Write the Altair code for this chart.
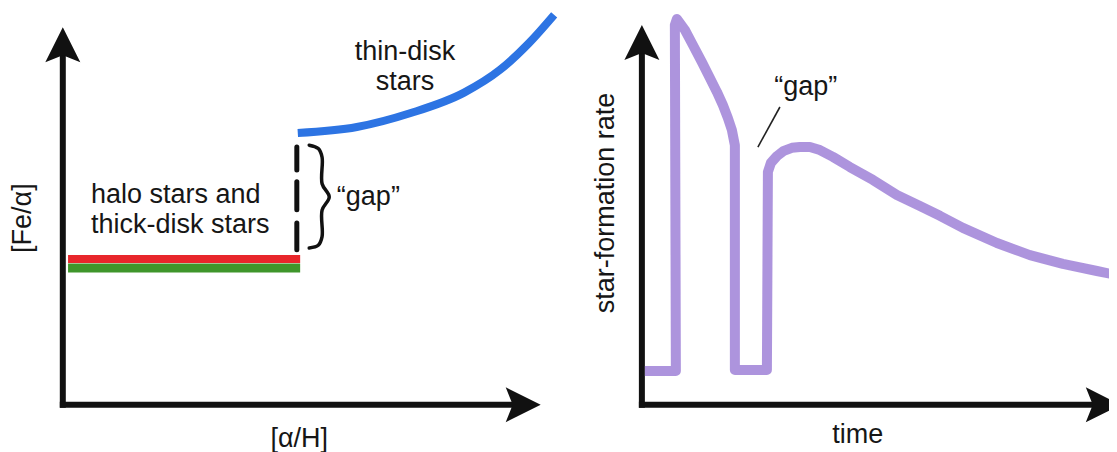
import altair as alt
import pandas as pd

# ---------------- left panel data (abstract units) ----------------
red_x = [0.11, 4.98]
red_y = [3.86, 3.86]
green_x = [0.11, 4.98]
green_y = [3.62, 3.62]
blue_x = [4.93, 6.17, 7.30, 8.42, 9.17, 9.78, 10.31]
blue_y = [7.19, 7.35, 7.72, 8.26, 8.86, 9.57, 10.32]
dash_x = [4.91, 4.91, 4.91]
dash_top = [6.82, 5.90, 4.81]
dash_bottom = [6.21, 5.16, 4.10]
brace_x = [5.17, 5.36, 5.44, 5.44, 5.59, 5.44, 5.44, 5.36, 5.17]
brace_y = [6.87, 6.78, 6.55, 5.85, 5.50, 5.15, 4.45, 4.22, 4.15]
left_axis_x = [0, 0]
left_axis_x2 = [0, 9.5]
left_axis_y = [0, 0]
left_axis_y2 = [9.3, 0]
left_arrow_x = [0, 9.66]
left_arrow_y = [9.53, 0]
left_arrow_angle = [0, 90]
left_labels = ["thin-disk", "stars", "halo stars and", "thick-disk stars", "\u201cgap\u201d"]
left_label_x = [7.18, 7.18, 0.59, 0.59, 5.75]
left_label_y = [9.12, 8.33, 5.34, 4.55, 5.29]
left_label_align = ["center", "center", "left", "left", "left"]
left_xtitle = "[\u03b1/H]"
left_xtitle_pos = [4.96, -0.90]
left_ytitle = "[Fe/\u03b1]"
left_ytitle_pos = [-0.835, 4.94]

# ---------------- right panel data (abstract units) ----------------
sfr_t = [0.063, 0.713, 0.692, 0.734, 0.902, 1.070, 1.259, 1.427, 1.574, 1.700,
         1.804, 1.888, 1.951, 1.951, 2.623, 2.644, 2.707, 2.833, 2.979, 3.147,
         3.315, 3.525, 3.735, 4.008, 4.364, 4.847, 5.350, 5.833, 6.253, 6.735,
         7.449, 8.141, 8.833, 9.547, 9.966]
sfr_v = [0.894, 0.894, 10.05, 10.21, 9.92, 9.52, 9.07, 8.65, 8.28, 7.93,
         7.59, 7.27, 6.87, 0.921, 0.921, 6.16, 6.40, 6.58, 6.72, 6.80,
         6.82, 6.82, 6.74, 6.56, 6.29, 5.95, 5.55, 5.26, 5.00, 4.68,
         4.28, 3.96, 3.73, 3.54, 3.43]
right_axis_x = [0, 0]
right_axis_x2 = [0, 9.5]
right_axis_y = [0, 0]
right_axis_y2 = [9.35, 0]
right_arrow_x = [0, 9.68]
right_arrow_y = [9.59, 0]
right_arrow_angle = [0, 90]
gap_label = "\u201cgap\u201d"
gap_label_pos = [3.44, 8.20]
pointer_x = [2.896, 2.434]
pointer_y = [7.88, 6.82]
right_xtitle = "time"
right_xtitle_pos = [4.53, -0.80]
right_ytitle = "star-formation rate"
right_ytitle_pos = [-0.755, 5.34]

FONT = "Liberation Sans"
FS = 27
TXT = "#161616"
ARROW = "M0,-1 L1,1 L0,0.6 L-1,1 Z"

ys = alt.Scale(domain=[-1.25, 10.5], nice=False, zero=False)
xs_left = alt.Scale(domain=[-1.15, 10.6], nice=False, zero=False)
xs_right = alt.Scale(domain=[-1.55, 9.80], nice=False, zero=False)


def X(f, s):
    return alt.X(f, type="quantitative", scale=s, axis=None)


def Y(f):
    return alt.Y(f, type="quantitative", scale=ys, axis=None)


def axes_layers(xs, ax, ax2, ay, ay2, arx, ary, arang):
    df = pd.DataFrame({"x": ax, "x2": ax2, "y": ay, "y2": ay2})
    rules = alt.Chart(df).mark_rule(color="#111111", strokeWidth=6, strokeCap="square",
                                    clip=True).encode(
        x=X("x", xs), x2="x2", y=Y("y"), y2="y2")
    da = pd.DataFrame({"x": arx, "y": ary, "a": arang})
    heads = alt.Chart(da).mark_point(shape=ARROW, filled=True, size=1225, color="#111111",
                                     opacity=1, strokeWidth=0, clip=True).encode(
        x=X("x", xs), y=Y("y"), angle=alt.Angle("a:Q", scale=None))
    return [rules, heads]


# ---------------- left panel ----------------
def seg(xv, yv, color, width, interp="linear"):
    d = pd.DataFrame({"x": xv, "y": yv, "i": list(range(len(xv)))})
    return alt.Chart(d).mark_line(color=color, strokeWidth=width, strokeCap="butt",
                                  strokeJoin="round", interpolate=interp, clip=True).encode(
        x=X("x", xs_left), y=Y("y"), order="i:Q")


red = seg(red_x, red_y, "#e8262b", 8)
green = seg(green_x, green_y, "#3f962b", 9)
blue = seg(blue_x, blue_y, "#2d74e3", 8, "monotone")
dashes = alt.Chart(pd.DataFrame({"x": dash_x, "y": dash_top, "y2": dash_bottom})).mark_rule(
    color="#111111", strokeWidth=5, strokeCap="round", clip=True).encode(
    x=X("x", xs_left), y=Y("y"), y2="y2")
brace = alt.Chart(pd.DataFrame({"x": brace_x, "y": brace_y, "i": list(range(len(brace_x)))})).mark_line(
    color="#111111", strokeWidth=3.5, interpolate="catmull-rom", strokeCap="round",
    strokeJoin="round", clip=True).encode(
    x=X("x", xs_left), y=Y("y"), order="i:Q")
lab_df = pd.DataFrame({"x": left_label_x, "y": left_label_y, "t": left_labels, "al": left_label_align})
ltext = alt.Chart(lab_df).transform_filter("datum.al == 'center'").mark_text(
    font=FONT, fontSize=FS, color=TXT, align="center", baseline="alphabetic").encode(
    x=X("x", xs_left), y=Y("y"), text="t:N")
ltext2 = alt.Chart(lab_df).transform_filter("datum.al == 'left'").mark_text(
    font=FONT, fontSize=FS, color=TXT, align="left", baseline="alphabetic").encode(
    x=X("x", xs_left), y=Y("y"), text="t:N")
lxt = alt.Chart(pd.DataFrame({"x": [left_xtitle_pos[0]], "y": [left_xtitle_pos[1]], "t": [left_xtitle]})).mark_text(
    font=FONT, fontSize=FS, color=TXT, align="center", baseline="middle").encode(
    x=X("x", xs_left), y=Y("y"), text="t:N")
lyt = alt.Chart(pd.DataFrame({"x": [left_ytitle_pos[0]], "y": [left_ytitle_pos[1]], "t": [left_ytitle]})).mark_text(
    font=FONT, fontSize=FS, color=TXT, align="center", baseline="middle", angle=270).encode(
    x=X("x", xs_left), y=Y("y"), text="t:N")

left = alt.layer(
    *axes_layers(xs_left, left_axis_x, left_axis_x2, left_axis_y, left_axis_y2,
                 left_arrow_x, left_arrow_y, left_arrow_angle),
    red, green, blue, dashes, brace, ltext, ltext2, lxt, lyt
).properties(width=560, height=444)

# ---------------- right panel ----------------
sfr = alt.Chart(pd.DataFrame({"t": sfr_t, "v": sfr_v, "i": list(range(len(sfr_t)))})).mark_line(
    color="#a98edb", strokeWidth=10, strokeCap="butt", strokeJoin="round", opacity=0.95,
    clip=True).encode(
    x=X("t", xs_right), y=Y("v"), order="i:Q")
pointer = alt.Chart(pd.DataFrame({"x": [pointer_x[0]], "x2": [pointer_x[1]],
                                  "y": [pointer_y[0]], "y2": [pointer_y[1]]})).mark_rule(
    color="#222222", strokeWidth=1.6, clip=True).encode(x=X("x", xs_right), x2="x2", y=Y("y"), y2="y2")
gapt = alt.Chart(pd.DataFrame({"x": [gap_label_pos[0]], "y": [gap_label_pos[1]], "t": [gap_label]})).mark_text(
    font=FONT, fontSize=FS, color=TXT, align="center", baseline="alphabetic").encode(
    x=X("x", xs_right), y=Y("y"), text="t:N")
rxt = alt.Chart(pd.DataFrame({"x": [right_xtitle_pos[0]], "y": [right_xtitle_pos[1]], "t": [right_xtitle]})).mark_text(
    font=FONT, fontSize=FS, color=TXT, align="center", baseline="middle").encode(
    x=X("x", xs_right), y=Y("y"), text="t:N")
ryt = alt.Chart(pd.DataFrame({"x": [right_ytitle_pos[0]], "y": [right_ytitle_pos[1]], "t": [right_ytitle]})).mark_text(
    font=FONT, fontSize=FS, color=TXT, align="center", baseline="middle", angle=270).encode(
    x=X("x", xs_right), y=Y("y"), text="t:N")

right = alt.layer(
    *axes_layers(xs_right, right_axis_x, right_axis_x2, right_axis_y, right_axis_y2,
                 right_arrow_x, right_arrow_y, right_arrow_angle),
    sfr, pointer, gapt, rxt, ryt
).properties(width=541, height=444)

chart = alt.hconcat(left, right, spacing=0).properties(padding=0).configure_view(strokeWidth=0)

chart.save("out.html", embed_options={"renderer": "svg", "actions": False})
